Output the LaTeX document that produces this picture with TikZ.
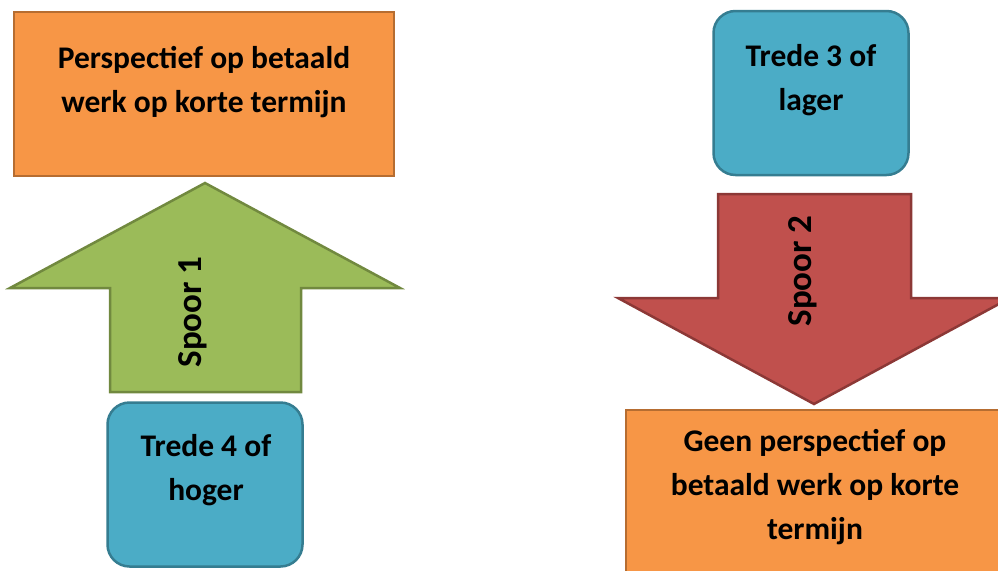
\documentclass[tikz,border=0pt]{standalone}
\usepackage{fontspec}
\setmainfont{Carlito}
\usetikzlibrary{positioning}
\definecolor{oranje}{HTML}{F79646}
\definecolor{oranjerand}{HTML}{B66D31}
\definecolor{groen}{HTML}{9BBB59}
\definecolor{groenrand}{HTML}{71893F}
\definecolor{blauw}{HTML}{4BACC6}
\definecolor{blauwrand}{HTML}{357D91}
\definecolor{rood}{HTML}{C0504D}
\definecolor{roodrand}{HTML}{8C3836}

\begin{document}
\begin{tikzpicture}[x=1pt,y=-1pt,
	vak/.style={draw=oranjerand,fill=oranje,line width=2.5pt,
		minimum width=380pt,minimum height=164pt,inner sep=0pt},
	trede/.style={draw=blauwrand,fill=blauw,line width=2.5pt,rounded corners=22pt,
		minimum width=195pt,minimum height=164pt,inner sep=0pt},
	tekst/.style={align=center,anchor=base,inner sep=0pt,
		font=\bfseries\fontsize{31.5}{44}\selectfont},
	spoor/.style={rotate=90,inner sep=0pt,font=\bfseries\fontsize{35}{42}\selectfont}]
		\useasboundingbox (0,0) rectangle (998,570);
		\clip (0,0) rectangle (998,570);
		% links: spoor 1
		\node[vak] (werk) at (204,94) {};
		\node[tekst] (werktekst) at (204,112) {Perspectief op betaald\\werk op korte termijn};
		\draw[draw=groenrand,fill=groen,line width=2.5pt,line join=miter]
		(205,183) -- (400,288) -- (301,288) -- (301,392) -- (110,392) -- (110,288) -- (10,288) -- cycle;
		\node[spoor] (spoor1) at (193,312) {Spoor 1};
		\node[trede] (trede4) at (205,484.5) {};
		\node[tekst] (trede4tekst) at (206,500) {Trede 4 of\\hoger};
		% rechts: spoor 2
		\node[trede] (trede3) at (811,93) {};
		\node[tekst] (trede3tekst) at (811,110) {Trede 3 of\\lager};
		\draw[draw=roodrand,fill=rood,line width=2.5pt,line join=miter]
		(718,194) -- (911,194) -- (911,298) -- (1010,298) -- (814,404) -- (618,298) -- (718,298) -- cycle;
		\node[spoor] (spoor2) at (803,271) {Spoor 2};
		\node[vak,minimum width=378pt] (geenwerk) at (815,492) {};
		\node[tekst] (geenwerktekst) at (815,539) {Geen perspectief op\\betaald werk op korte\\termijn};
\end{tikzpicture}
\end{document}
